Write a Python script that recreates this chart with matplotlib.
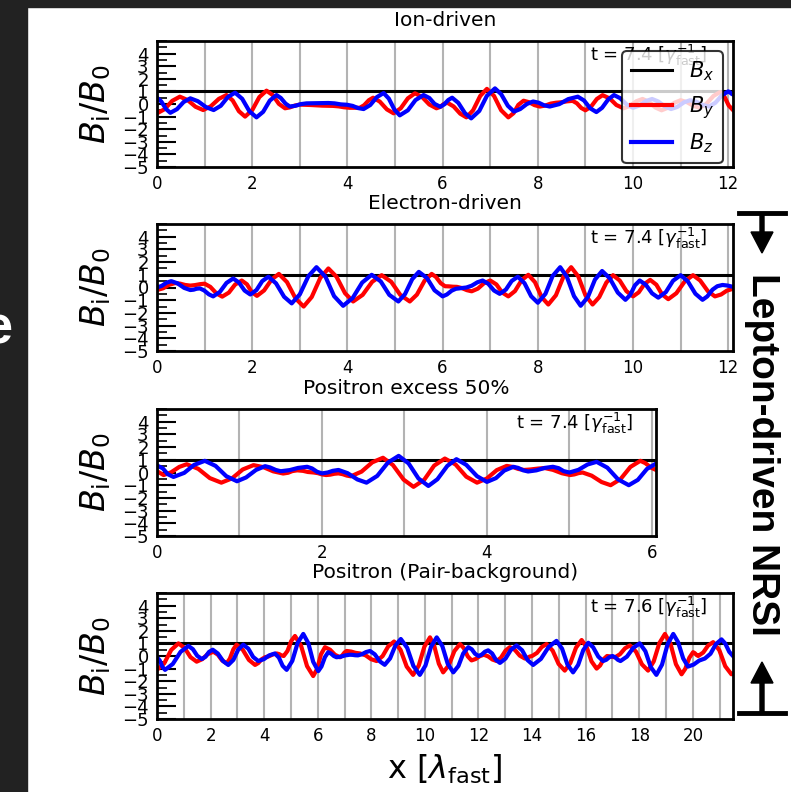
import matplotlib.pyplot as plt
import numpy as np
from matplotlib.ticker import MultipleLocator
from matplotlib.patches import Rectangle, FancyArrow
from matplotlib.lines import Line2D

# --- data: (x [lambda_fast], B_i / B_0) ---
titles = ['Ion-driven', 'Electron-driven', 'Positron excess 50%',
          'Positron (Pair-background)']
times = ['7.4', '7.4', '7.4', '7.6']
x_max = [12.1, 12.1, 6.05, 21.5]
bx_level = 1.0

ion_by = [(0, -0.74), (0.16, -0.41), (0.32, 0.25), (0.48, 0.58), (0.64, 0.32),
          (0.81, -0.22), (0.97, -0.48), (1.13, -0.18), (1.30, 0.41), (1.46, 0.71),
          (1.59, 0.28), (1.72, -0.57), (1.85, -1.0), (2.0, -0.49), (2.15, 0.55),
          (2.30, 1.06), (2.43, 0.71), (2.56, 0.01), (2.69, -0.34), (2.79, -0.27),
          (2.90, -0.12), (3.0, -0.05), (3.23, -0.08), (3.47, -0.13), (3.7, -0.15),
          (3.82, -0.19), (3.93, -0.26), (4.05, -0.3), (4.26, -0.3), (4.35, -0.1),
          (4.45, 0.3), (4.54, 0.5), (4.68, 0.19), (4.83, -0.43), (4.97, -0.74),
          (5.12, -0.34), (5.27, 0.45), (5.42, 0.85), (5.57, 0.55), (5.72, -0.04),
          (5.87, -0.34), (5.95, -0.23), (6.02, -0.01), (6.1, 0.1), (6.23, -0.19),
          (6.37, -0.77), (6.5, -1.06), (6.64, -0.5), (6.79, 0.64), (6.93, 1.2),
          (7.08, 0.64), (7.23, -0.5), (7.38, -1.06), (7.49, -0.73), (7.59, -0.07),
          (7.7, 0.26), (7.81, 0.15), (7.93, -0.09), (8.04, -0.2), (8.15, -0.13),
          (8.27, 0.03), (8.38, 0.1), (8.5, 0.14), (8.61, 0.21), (8.73, 0.25),
          (8.82, 0.06), (8.91, -0.31), (9.0, -0.5), (9.12, -0.2), (9.24, 0.4),
          (9.36, 0.7), (9.51, 0.44), (9.65, -0.08), (9.8, -0.34), (9.93, -0.16),
          (10.07, 0.22), (10.2, 0.4), (10.33, 0.18), (10.47, -0.28), (10.6, -0.5),
          (10.73, -0.3), (10.87, 0.1), (11.0, 0.3), (11.13, 0.15), (11.27, -0.15),
          (11.4, -0.3), (11.54, 0.01), (11.69, 0.64), (11.83, 0.95), (11.92, 0.59),
          (12.01, -0.12), (12.1, -0.48)]
ion_bz = [(0, 0.5), (0.09, 0.2), (0.19, -0.4), (0.28, -0.7), (0.42, -0.41),
          (0.56, 0.16), (0.7, 0.45), (0.86, 0.22), (1.03, -0.25), (1.19, -0.48),
          (1.34, -0.14), (1.49, 0.56), (1.64, 0.9), (1.79, 0.41), (1.94, -0.57),
          (2.09, -1.06), (2.23, -0.62), (2.37, 0.27), (2.51, 0.71), (2.6, 0.48),
          (2.7, 0.03), (2.79, -0.2), (2.91, -0.14), (3.02, -0.01), (3.14, 0.05),
          (3.29, 0.06), (3.45, 0.07), (3.6, 0.08), (3.73, 0.05), (3.86, -0.03),
          (3.99, -0.06), (4.11, -0.15), (4.22, -0.32), (4.34, -0.4), (4.48, -0.08),
          (4.62, 0.55), (4.76, 0.87), (4.87, 0.43), (4.99, -0.46), (5.1, -0.9),
          (5.27, -0.5), (5.43, 0.31), (5.6, 0.71), (5.72, 0.48), (5.83, 0.01),
          (5.95, -0.22), (6.03, -0.04), (6.12, 0.32), (6.2, 0.5), (6.33, 0.09),
          (6.47, -0.73), (6.6, -1.14), (6.77, -0.55), (6.93, 0.65), (7.1, 1.24),
          (7.23, 0.78), (7.37, -0.14), (7.5, -0.6), (7.63, -0.4), (7.77, 0.0),
          (7.9, 0.2), (8.02, 0.1), (8.13, -0.1), (8.25, -0.2), (8.45, -0.01),
          (8.64, 0.39), (8.84, 0.58), (8.97, 0.28), (9.1, -0.34), (9.23, -0.64),
          (9.35, -0.3), (9.48, 0.37), (9.6, 0.71), (9.73, 0.46), (9.87, -0.05),
          (10.0, -0.3), (10.13, -0.13), (10.27, 0.23), (10.4, 0.4), (10.53, 0.2),
          (10.67, -0.2), (10.8, -0.4), (10.93, -0.23), (11.07, 0.13), (11.2, 0.3),
          (11.33, 0.18), (11.47, -0.08), (11.6, -0.2), (11.73, 0.1), (11.87, 0.7),
          (12.0, 1.0), (12.03, 0.94), (12.07, 0.81), (12.1, 0.75)]

ele_by = [(0, -0.2), (0.13, -0.06), (0.25, 0.21), (0.38, 0.35), (0.49, 0.3),
          (0.59, 0.2), (0.7, 0.15), (0.8, 0.19), (0.9, 0.26), (1.0, 0.3),
          (1.12, 0.05), (1.25, -0.47), (1.37, -0.72), (1.51, -0.4), (1.64, 0.23),
          (1.78, 0.55), (1.89, 0.25), (1.99, -0.36), (2.1, -0.66), (2.25, -0.23),
          (2.41, 0.64), (2.56, 1.07), (2.73, 0.43), (2.91, -0.86), (3.08, -1.5),
          (3.25, -0.75), (3.43, 0.75), (3.6, 1.5), (3.77, 0.85), (3.95, -0.45),
          (4.12, -1.1), (4.32, -0.58), (4.52, 0.45), (4.72, 0.97), (4.92, 0.45),
          (5.11, -0.58), (5.31, -1.1), (5.46, -0.56), (5.62, 0.53), (5.77, 1.07),
          (5.86, 0.83), (5.96, 0.34), (6.05, 0.1), (6.13, 0.09), (6.22, 0.06),
          (6.3, 0.05), (6.4, -0.04), (6.51, -0.21), (6.61, -0.3), (6.74, -0.09),
          (6.87, 0.34), (7.0, 0.55), (7.13, 0.24), (7.25, -0.39), (7.38, -0.7),
          (7.52, -0.28), (7.66, 0.58), (7.8, 1.0), (7.94, 0.42), (8.08, -0.76),
          (8.22, -1.34), (8.38, -0.61), (8.54, 0.87), (8.7, 1.6), (8.85, 0.87),
          (9.0, -0.61), (9.15, -1.34), (9.29, -0.76), (9.44, 0.39), (9.58, 0.97),
          (9.72, 0.55), (9.86, -0.28), (10.0, -0.7), (10.12, -0.38), (10.24, 0.28),
          (10.36, 0.6), (10.49, 0.22), (10.61, -0.54), (10.74, -0.92), (10.91, -0.45),
          (11.09, 0.5), (11.26, 0.97), (11.41, 0.55), (11.57, -0.28), (11.72, -0.7),
          (11.85, -0.55), (11.97, -0.25), (12.1, -0.1)]
ele_bz = [(0, 0.0), (0.1, 0.13), (0.2, 0.38), (0.3, 0.5), (0.43, 0.33),
          (0.57, -0.03), (0.7, -0.2), (0.77, -0.17), (0.83, -0.1), (0.9, -0.07),
          (0.99, -0.23), (1.09, -0.54), (1.18, -0.7), (1.32, -0.35), (1.46, 0.36),
          (1.6, 0.71), (1.72, 0.4), (1.84, -0.24), (1.96, -0.55), (2.09, -0.2),
          (2.21, 0.5), (2.34, 0.85), (2.5, 0.33), (2.67, -0.73), (2.83, -1.25),
          (3.0, -0.54), (3.18, 0.89), (3.35, 1.6), (3.54, 0.84), (3.72, -0.68),
          (3.91, -1.44), (4.11, -0.83), (4.31, 0.39), (4.51, 1.0), (4.7, 0.48),
          (4.88, -0.58), (5.07, -1.1), (5.21, -0.52), (5.36, 0.65), (5.5, 1.23),
          (5.67, 0.75), (5.83, -0.22), (6.0, -0.7), (6.09, -0.55), (6.19, -0.25),
          (6.28, -0.1), (6.35, -0.07), (6.43, -0.03), (6.5, 0.0), (6.61, 0.14),
          (6.73, 0.41), (6.84, 0.55), (6.96, 0.29), (7.08, -0.24), (7.2, -0.5),
          (7.33, -0.16), (7.45, 0.51), (7.58, 0.85), (7.72, 0.34), (7.86, -0.69),
          (8.0, -1.2), (8.16, -0.5), (8.31, 0.9), (8.47, 1.6), (8.61, 0.84),
          (8.76, -0.68), (8.9, -1.44), (9.05, -0.76), (9.2, 0.62), (9.35, 1.3),
          (9.51, 0.73), (9.68, -0.4), (9.84, -0.97), (9.94, -0.59), (10.04, 0.17),
          (10.14, 0.55), (10.27, 0.21), (10.4, -0.46), (10.53, -0.8), (10.69, -0.36),
          (10.84, 0.53), (11.0, 0.97), (11.15, 0.49), (11.31, -0.49), (11.46, -0.97),
          (11.56, -0.7), (11.67, -0.17), (11.77, 0.1), (11.88, 0.2), (11.99, 0.15),
          (12.1, 0.05)]

pex_by = [(0, 0.1), (0.08, -0.2), (0.17, 0.01), (0.27, 0.44), (0.36, 0.65),
          (0.5, 0.29), (0.64, -0.44), (0.78, -0.8), (0.91, -0.46), (1.04, 0.24),
          (1.17, 0.58), (1.29, 0.42), (1.41, 0.09), (1.53, -0.08), (1.59, -0.02),
          (1.64, 0.11), (1.7, 0.17), (1.77, 0.13), (1.83, 0.04), (1.9, 0.0),
          (1.95, -0.05), (2.0, -0.15), (2.05, -0.2), (2.1, -0.17), (2.15, -0.1),
          (2.2, -0.07), (2.25, -0.13), (2.3, -0.24), (2.35, -0.3), (2.48, 0.07),
          (2.61, 0.8), (2.74, 1.16), (2.86, 0.59), (2.99, -0.56), (3.11, -1.13),
          (3.24, -0.57), (3.36, 0.54), (3.49, 1.1), (3.62, 0.63), (3.75, -0.33),
          (3.88, -0.8), (4.0, -0.47), (4.12, 0.19), (4.24, 0.52), (4.31, 0.44),
          (4.38, 0.28), (4.45, 0.2), (4.53, 0.24), (4.62, 0.31), (4.7, 0.35),
          (4.8, 0.21), (4.91, -0.06), (5.01, -0.2), (5.06, -0.15), (5.11, -0.05),
          (5.16, 0.0), (5.27, -0.25), (5.39, -0.75), (5.5, -1.0), (5.62, -0.52),
          (5.74, 0.44), (5.86, 0.92), (5.92, 0.74), (5.99, 0.38), (6.05, 0.2)]
pex_bz = [(0, 0.55), (0.07, 0.33), (0.13, -0.13), (0.2, -0.35), (0.33, -0.03),
          (0.45, 0.6), (0.58, 0.92), (0.71, 0.52), (0.84, -0.29), (0.97, -0.69),
          (1.08, -0.39), (1.2, 0.2), (1.31, 0.5), (1.37, 0.4), (1.44, 0.2),
          (1.5, 0.1), (1.61, 0.19), (1.71, 0.36), (1.82, 0.45), (1.88, 0.32),
          (1.94, 0.06), (2.0, -0.07), (2.07, 0.0), (2.13, 0.13), (2.2, 0.2),
          (2.31, -0.05), (2.43, -0.55), (2.54, -0.8), (2.67, -0.27), (2.8, 0.78),
          (2.93, 1.31), (3.05, 0.72), (3.17, -0.47), (3.29, -1.06), (3.4, -0.53),
          (3.52, 0.52), (3.63, 1.05), (3.75, 0.6), (3.88, -0.29), (4.0, -0.74),
          (4.11, -0.44), (4.21, 0.15), (4.32, 0.45), (4.38, 0.36), (4.44, 0.17),
          (4.5, 0.08), (4.6, 0.17), (4.7, 0.36), (4.8, 0.45), (4.87, 0.34),
          (4.93, 0.11), (5.0, 0.0), (5.11, 0.21), (5.22, 0.63), (5.33, 0.84),
          (5.46, 0.38), (5.59, -0.54), (5.72, -1.0), (5.83, -0.58), (5.94, 0.28),
          (6.05, 0.7)]

pair_by = [(0, -1.1), (0.27, -0.58), (0.53, 0.48), (0.8, 1.0), (1.03, 0.64),
           (1.25, -0.09), (1.48, -0.45), (1.69, -0.25), (1.89, 0.14), (2.1, 0.34),
           (2.27, 0.11), (2.43, -0.35), (2.6, -0.58), (2.72, -0.21), (2.85, 0.53),
           (2.97, 0.9), (3.2, 0.5), (3.43, -0.31), (3.66, -0.71), (3.78, -0.56),
           (3.91, -0.25), (4.03, -0.1), (4.18, -0.02), (4.32, 0.12), (4.47, 0.2),
           (4.56, 0.15), (4.64, 0.05), (4.73, 0.0), (4.87, 0.4), (5.01, 1.19),
           (5.15, 1.59), (5.38, 0.8), (5.6, -0.8), (5.83, -1.59), (5.98, -1.02),
           (6.12, 0.13), (6.27, 0.7), (6.46, 0.5), (6.64, 0.1), (6.83, -0.1),
           (6.91, 0.03), (7.0, 0.28), (7.08, 0.4), (7.25, 0.35), (7.41, 0.25),
           (7.58, 0.2), (7.79, 0.05), (7.99, -0.25), (8.2, -0.4), (8.42, -0.01),
           (8.63, 0.76), (8.85, 1.15), (9.09, 0.49), (9.32, -0.84), (9.56, -1.5),
           (9.77, -0.76), (9.98, 0.74), (10.19, 1.48), (10.35, 0.79), (10.52, -0.61),
           (10.68, -1.3), (10.89, -0.74), (11.1, 0.39), (11.31, 0.95), (11.45, 0.63),
           (11.6, -0.03), (11.74, -0.35), (11.89, -0.24), (12.05, -0.01), (12.2, 0.1),
           (12.36, -0.03), (12.52, -0.28), (12.68, -0.4), (12.84, -0.13), (13.01, 0.43),
           (13.17, 0.7), (13.36, 0.48), (13.54, 0.03), (13.73, -0.2), (13.82, -0.15),
           (13.91, -0.05), (14.0, 0.0), (14.18, 0.24), (14.36, 0.71), (14.54, 0.95),
           (14.77, 0.42), (14.99, -0.63), (15.22, -1.16), (15.43, -0.55), (15.64, 0.66),
           (15.85, 1.27), (16.04, 0.7), (16.22, -0.43), (16.41, -1.0), (16.54, -0.75),
           (16.67, -0.25), (16.8, 0.0), (16.9, -0.03), (17.0, -0.08), (17.1, -0.1),
           (17.28, 0.14), (17.47, 0.61), (17.65, 0.84), (17.88, 0.34), (18.1, -0.66),
           (18.33, -1.16), (18.54, -0.43), (18.75, 1.02), (18.96, 1.75), (19.17, 0.95),
           (19.37, -0.65), (19.58, -1.45), (19.72, -1.01), (19.87, -0.14), (20.01, 0.3),
           (20.07, 0.23), (20.14, 0.08), (20.2, 0.0), (20.39, 0.28), (20.57, 0.83),
           (20.76, 1.1), (20.99, 0.46), (21.21, -0.81), (21.44, -1.45), (21.5, -1.4)]
pair_bz = [(0, -0.1), (0.1, -0.35), (0.2, -0.85), (0.3, -1.1), (0.59, -0.63),
           (0.88, 0.33), (1.17, 0.8), (1.34, 0.54), (1.5, 0.02), (1.67, -0.24),
           (1.81, -0.06), (1.94, 0.32), (2.08, 0.5), (2.27, 0.2), (2.47, -0.41),
           (2.66, -0.71), (2.85, -0.31), (3.03, 0.5), (3.22, 0.9), (3.41, 0.58),
           (3.59, -0.08), (3.78, -0.4), (3.99, -0.25), (4.19, 0.05), (4.4, 0.2),
           (4.55, -0.13), (4.69, -0.78), (4.84, -1.1), (5.05, -0.39), (5.25, 1.04),
           (5.46, 1.75), (5.65, 1.01), (5.83, -0.46), (6.02, -1.2), (6.14, -0.83),
           (6.27, -0.08), (6.39, 0.3), (6.49, 0.2), (6.6, 0.0), (6.7, -0.1),
           (6.87, -0.05), (7.03, 0.05), (7.2, 0.1), (7.3, 0.09), (7.4, 0.06),
           (7.5, 0.05), (7.65, 0.14), (7.8, 0.31), (7.95, 0.4), (8.13, 0.13),
           (8.32, -0.43), (8.5, -0.7), (8.7, -0.19), (8.9, 0.84), (9.1, 1.35),
           (9.34, 0.64), (9.57, -0.79), (9.81, -1.5), (10.02, -0.76), (10.23, 0.74),
           (10.44, 1.48), (10.65, 0.79), (10.85, -0.61), (11.06, -1.3), (11.25, -0.8),
           (11.43, 0.2), (11.62, 0.7), (11.75, 0.53), (11.87, 0.18), (12.0, 0.0),
           (12.12, 0.11), (12.24, 0.34), (12.36, 0.45), (12.51, 0.2), (12.65, -0.3),
           (12.8, -0.55), (13.01, -0.2), (13.21, 0.49), (13.42, 0.84), (13.63, 0.45),
           (13.83, -0.32), (14.04, -0.71), (14.33, -0.23), (14.62, 0.72), (14.91, 1.2),
           (15.12, 0.58), (15.32, -0.68), (15.53, -1.3), (15.72, -0.71), (15.91, 0.46),
           (16.1, 1.05), (16.28, 0.69), (16.47, -0.04), (16.65, -0.4), (16.77, -0.3),
           (16.88, -0.1), (17.0, 0.0), (17.1, -0.1), (17.2, -0.3), (17.3, -0.4),
           (17.54, -0.05), (17.78, 0.65), (18.02, 1.0), (18.23, 0.38), (18.43, -0.88),
           (18.64, -1.5), (18.85, -0.69), (19.06, 0.94), (19.27, 1.75), (19.45, 1.1),
           (19.64, -0.19), (19.82, -0.84), (20.03, -0.68), (20.24, -0.36), (20.45, -0.2),
           (20.66, 0.18), (20.86, 0.94), (21.07, 1.32), (21.21, 0.99), (21.36, 0.33),
           (21.5, 0.0)]

series = [(ion_by, ion_bz), (ele_by, ele_bz), (pex_by, pex_bz),
          (pair_by, pair_bz)]

# axes boxes in pixels of the 791x792 picture: left, right, top, bottom
W, H = 791, 792
boxes = [(157, 733, 41, 167), (157, 733, 224, 351),
         (157, 656, 409, 536), (157, 733, 593, 719)]

fig = plt.figure(figsize=(W / 100, H / 100), dpi=100)
fig.patch.set_facecolor('white')

for i, (l, r, t, b) in enumerate(boxes):
    ax = fig.add_axes([l / W, 1 - b / H, (r - l) / W, (b - t) / H])
    by = np.array(series[i][0])
    bz = np.array(series[i][1])
    ax.axhline(bx_level, color='k', lw=2.2, label='$B_x$')
    ax.plot(by[:, 0], by[:, 1], color='red', lw=3, solid_joinstyle='round',
            label='$B_y$')
    ax.plot(bz[:, 0], bz[:, 1], color='blue', lw=3, solid_joinstyle='round',
            label='$B_z$')
    ax.set_xlim(0, x_max[i])
    ax.set_ylim(-5, 5)
    ax.set_yticks(np.arange(-5, 5))
    ax.yaxis.set_minor_locator(MultipleLocator(0.5))
    ax.xaxis.set_major_locator(MultipleLocator(2))
    ax.xaxis.set_minor_locator(MultipleLocator(1))
    ax.grid(True, axis='x', which='both', color='0.7', lw=1.5)
    ax.tick_params(axis='both', which='both', direction='in')
    ax.tick_params(axis='y', which='major', length=14, width=1.5, labelsize=13, pad=6)
    ax.tick_params(axis='y', which='minor', length=7, width=1.2)
    ax.tick_params(axis='x', which='both', length=0, labelsize=12, pad=6)
    for s in ax.spines.values():
        s.set_linewidth(2)
    ax.set_title(titles[i], fontsize=14.5, pad=11)
    ax.set_ylabel(r'$B_\mathrm{i}/B_0$', fontsize=24)
    ax.yaxis.set_label_coords((113 - l) / (r - l), 0.5)
    ax.text(0.955, 0.985, r't = %s [$\gamma_\mathrm{fast}^{-1}$]' % times[i],
            transform=ax.transAxes, ha='right', va='top', fontsize=13)
    if i == 0:
        leg = ax.legend(loc='upper right', fontsize=15, edgecolor='k',
                        framealpha=0.8)
        leg.get_frame().set_linewidth(1.5)
    if i == 3:
        ax.set_xlabel(r'x [$\lambda_\mathrm{fast}$]', fontsize=23, labelpad=5)

# slide background bits around the figure
fig.patches.append(Rectangle((0, 0), 27 / W, 1, transform=fig.transFigure,
                             color='#222222', zorder=0))
fig.patches.append(Rectangle((0, 1 - 7 / H), 1, 7 / H, transform=fig.transFigure,
                             color='#222222', zorder=0))
fig.text(13 / W, 1 - 343 / H, 'e', color='white', fontsize=39,
         fontweight='bold', family='Liberation Sans', ha='right', va='baseline')

# bracket annotation on the right
fig.text(762 / W, 1 - 454 / H, 'Lepton-driven NRSI', rotation=-90,
         ha='center', va='center', fontsize=28, fontweight='bold',
         family='Liberation Sans')
for bar_y, tip_y in [(213, 253), (713, 662)]:
    fig.add_artist(Line2D([739 / W, 785 / W], [1 - bar_y / H, 1 - bar_y / H],
                          transform=fig.transFigure, color='k', lw=3.5))
    fig.add_artist(FancyArrow(762 / W, 1 - bar_y / H, 0, (bar_y - tip_y) / H,
                              width=4 / W, head_width=22 / W, head_length=21 / H,
                              length_includes_head=True, color='k',
                              transform=fig.transFigure))

fig.savefig('out.png', dpi=100)
